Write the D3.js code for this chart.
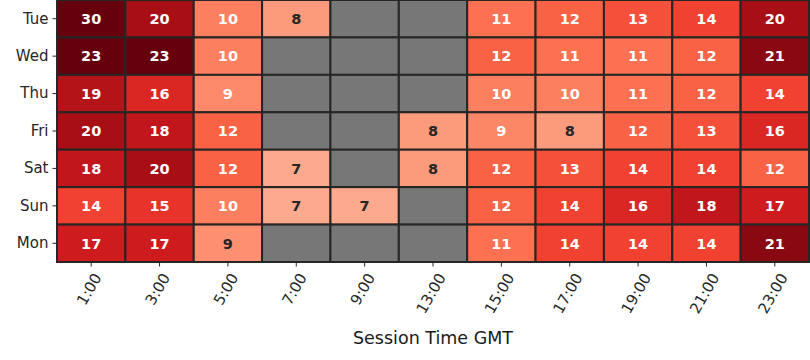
<!DOCTYPE html>
<html>
<head>
<meta charset="utf-8">
<script src="https://cdn.jsdelivr.net/npm/d3@7"></script>
<style>
  body { margin: 0; background: #fff; }
  svg { display: block; font-family: "DejaVu Sans", sans-serif; }
</style>
</head>
<body>
<svg id="chart" width="810" height="360"></svg>
<script>
// rows (days) and columns (session hours GMT)
const days = ["Tue", "Wed", "Thu", "Fri", "Sat", "Sun", "Mon"];
const hours = ["1:00", "3:00", "5:00", "7:00", "9:00", "13:00", "15:00", "17:00", "19:00", "21:00", "23:00"];

// null = no data (grey cell)
const tueVals = [30, 20, 10, 8, null, null, 11, 12, 13, 14, 20];
const wedVals = [23, 23, 10, null, null, null, 12, 11, 11, 12, 21.4];
const thuVals = [19, 16, 9.3, null, null, null, 10, 10, 11, 12, 14];
const friVals = [20, 18, 12, null, null, 8, 9.4, 8, 12, 13, 16];
const satVals = [18, 20, 12, 7, null, 8, 12, 13, 14, 14, 12];
const sunVals = [14, 15, 10, 7, 7, null, 12, 14, 16, 18, 17];
const monVals = [17, 17, 8.8, null, null, null, 11, 14, 14, 14, 21.4];

const rows = [tueVals, wedVals, thuVals, friVals, satVals, sunVals, monVals];

// matplotlib "Reds" anchors, linear in RGB
const redsStops = ["#fff5f0", "#fee0d2", "#fcbba1", "#fc9272", "#fb6a4a", "#ef3b2c", "#cb181d", "#a50f15", "#67000d"];

const svg = d3.select("#chart");
const plotLeft = 57, plotRight = 809, plotTop = 0, plotBottom = 262;
const tickFont = 15;

const x = d3.scaleBand().domain(hours).range([plotLeft, plotRight]);
const y = d3.scaleBand().domain(days).range([plotTop, plotBottom]);

const vmin = 0, vmax = 23;
const t = d3.scaleLinear().domain([vmin, vmax]).range([0, 1]).clamp(true);
const reds = d3.scaleLinear()
    .domain(redsStops.map((d, i) => i / (redsStops.length - 1)))
    .range(redsStops)
    .interpolate(d3.interpolateRgb);
const color = v => reds(t(v));

// seaborn picks the annotation colour from relative luminance
function textColor(c) {
    const rgb = d3.rgb(c);
    const lin = ch => {
        const s = ch / 255;
        return s <= 0.03928 ? s / 12.92 : Math.pow((s + 0.055) / 1.055, 2.4);
    };
    const lum = 0.2126 * lin(rgb.r) + 0.7152 * lin(rgb.g) + 0.0722 * lin(rgb.b);
    return lum > 0.408 ? "#262626" : "#ffffff";
}

const cells = [];
rows.forEach((vals, ri) => {
    vals.forEach((v, ci) => {
        cells.push({ day: days[ri], hour: hours[ci], value: v });
    });
});

// grey background for missing cells
svg.append("rect")
    .attr("x", plotLeft).attr("y", plotTop)
    .attr("width", plotRight - plotLeft).attr("height", plotBottom - plotTop)
    .attr("fill", "#777777");

const cell = svg.append("g").selectAll("g")
    .data(cells)
    .enter().append("g");

cell.append("rect")
    .attr("x", d => x(d.hour))
    .attr("y", d => y(d.day))
    .attr("width", x.bandwidth())
    .attr("height", y.bandwidth())
    .attr("fill", d => d.value == null ? "#777777" : color(d.value))
    .attr("stroke", "#262626")
    .attr("stroke-width", 2);

cell.filter(d => d.value != null)
    .append("text")
    .attr("x", d => x(d.hour) + x.bandwidth() / 2)
    .attr("y", d => y(d.day) + y.bandwidth() / 2)
    .attr("dy", "0.36em")
    .attr("text-anchor", "middle")
    .attr("font-size", 14.5)
    .attr("font-weight", "bold")
    .attr("fill", d => textColor(color(d.value)))
    .text(d => d3.format(".0f")(d.value));

// y axis
const yAxis = svg.append("g")
    .attr("transform", `translate(${plotLeft},0)`)
    .call(d3.axisLeft(y).tickSize(4.5).tickPadding(4));
yAxis.select(".domain").remove();
yAxis.selectAll("line").attr("stroke", "#262626");
yAxis.selectAll("text")
    .attr("font-size", tickFont)
    .attr("font-family", "DejaVu Sans")
    .attr("fill", "#262626");

// x axis with labels rotated 60 degrees, rotated box centred on the tick
const xAxis = svg.append("g")
    .attr("transform", `translate(0,${plotBottom})`)
    .call(d3.axisBottom(x).tickSize(4.5).tickPadding(4));
xAxis.select(".domain").remove();
xAxis.selectAll("line").attr("stroke", "#262626");
xAxis.selectAll("text")
    .attr("font-size", tickFont)
    .attr("font-family", "DejaVu Sans")
    .attr("fill", "#262626")
    .attr("text-anchor", "middle")
    .attr("dy", "0.35em")
    .each(function() {
        const txt = d3.select(this);
        const L = this.getComputedTextLength();
        const h = tickFont * 0.82;
        const a = 60 * Math.PI / 180;
        const boxH = L * Math.sin(a) + h * Math.cos(a);
        const cy = 4.5 + 5 + boxH / 2;
        txt.attr("y", cy).attr("x", -2)
            .attr("transform", `rotate(-60,-2,${cy})`);
    });

// outer frame
svg.append("rect")
    .attr("x", plotLeft).attr("y", plotTop)
    .attr("width", plotRight - plotLeft).attr("height", plotBottom - plotTop)
    .attr("fill", "none")
    .attr("stroke", "#262626")
    .attr("stroke-width", 2);

svg.append("text")
    .attr("x", (plotLeft + plotRight) / 2)
    .attr("y", 344)
    .attr("text-anchor", "middle")
    .attr("font-size", 17.5)
    .attr("fill", "#1a1a1a")
    .text("Session Time GMT");
</script>
</body>
</html>
